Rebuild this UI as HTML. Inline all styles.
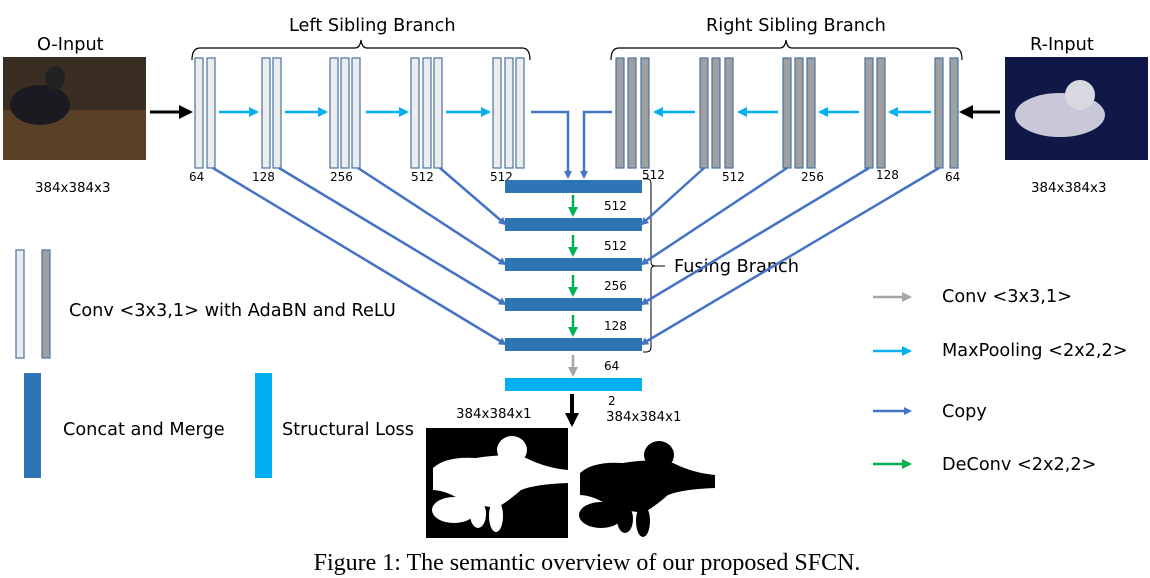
<!DOCTYPE html>
<html><head><meta charset="utf-8"><style>
body{margin:0;background:#fff;}
svg{display:block;font-family:"DejaVu Sans","Liberation Sans",sans-serif;}
.lb{fill:#ececec;stroke:#4a73a8;stroke-width:1.2}
.rb{fill:#a0a0a0;stroke:#4a73a8;stroke-width:1.2}
.t{font-size:17.7px;fill:#000}
.d{font-size:13.4px;fill:#000}
.s{font-size:12px;fill:#000}
.cp{stroke:#4472c4;stroke-width:2.5;fill:none}
</style></head><body>
<svg width="1150" height="578" viewBox="0 0 1150 578">
<defs>
<marker id="mb" markerWidth="8" markerHeight="8" refX="6" refY="4" orient="auto" markerUnits="userSpaceOnUse"><path d="M0,0 L8,4 L0,8z" fill="#4472c4"/></marker>
<marker id="mc" markerWidth="10" markerHeight="10" refX="8" refY="5" orient="auto" markerUnits="userSpaceOnUse"><path d="M0,0 L10,5 L0,10z" fill="#00b0f0"/></marker>
<marker id="mg" markerWidth="10" markerHeight="10" refX="8" refY="5" orient="auto" markerUnits="userSpaceOnUse"><path d="M0,0 L10,5 L0,10z" fill="#00b050"/></marker>
<marker id="mgr" markerWidth="10" markerHeight="10" refX="8" refY="5" orient="auto" markerUnits="userSpaceOnUse"><path d="M0,0 L10,5 L0,10z" fill="#a6a6a6"/></marker>
<marker id="mk" markerWidth="14" markerHeight="14" refX="11" refY="7" orient="auto" markerUnits="userSpaceOnUse"><path d="M0,0 L14,7 L0,14z" fill="#000"/></marker>
<g id="fig">
<ellipse cx="86" cy="22" rx="15" ry="14"/>
<path d="M7,40 Q20,28 50,30 Q80,25 100,30 Q120,40 142,42 L142,55 Q110,56 95,62 Q80,75 70,80 L40,75 Q20,62 7,62z"/>
<ellipse cx="28" cy="82" rx="22" ry="13"/>
<ellipse cx="52" cy="86" rx="8" ry="14"/>
<ellipse cx="70" cy="88" rx="7" ry="16"/>
</g>
</defs>

<text x="289" y="31" class="t">Left Sibling Branch</text>
<text x="706" y="31" class="t">Right Sibling Branch</text>
<text x="37" y="50" class="t">O-Input</text>
<text x="1030" y="50" class="t">R-Input</text>
<path d="M192,60 Q192,48 200,48 L355,48 Q360,48 361,40 Q362,48 367,48 L522,48 Q530,48 530,60" fill="none" stroke="#000" stroke-width="1.2"/>
<path d="M611,60 Q611,48 619,48 L780,48 Q785,48 786,40 Q787,48 792,48 L955,48 Q962,48 962,60" fill="none" stroke="#000" stroke-width="1.2"/>

<rect x="3" y="57" width="143" height="103" fill="#3a2e22"/>
<rect x="3" y="110" width="143" height="50" fill="#5a4026"/>
<ellipse cx="40" cy="105" rx="30" ry="20" fill="#1a1a20"/>
<ellipse cx="55" cy="78" rx="10" ry="12" fill="#222"/>
<rect x="1005" y="57" width="143" height="103" fill="#101848"/>
<ellipse cx="1060" cy="115" rx="45" ry="22" fill="#c8c8d8"/>
<ellipse cx="1080" cy="95" rx="15" ry="15" fill="#d8d8e0"/>
<text x="35" y="192" class="d">384x384x3</text>
<text x="1031" y="192" class="d">384x384x3</text>
<line x1="150" y1="112" x2="190" y2="112" stroke="#000" stroke-width="3" marker-end="url(#mk)"/>
<line x1="1000" y1="112" x2="962" y2="112" stroke="#000" stroke-width="3" marker-end="url(#mk)"/>

<g class="lb">
<rect x="195" y="58" width="8" height="110"/><rect x="207" y="58" width="8" height="110"/>
<rect x="262" y="58" width="8" height="110"/><rect x="273" y="58" width="8" height="110"/>
<rect x="330" y="58" width="8" height="110"/><rect x="341" y="58" width="8" height="110"/><rect x="352" y="58" width="8" height="110"/>
<rect x="411" y="58" width="8" height="110"/><rect x="423" y="58" width="8" height="110"/><rect x="434" y="58" width="8" height="110"/>
<rect x="493" y="58" width="8" height="110"/><rect x="505" y="58" width="8" height="110"/><rect x="516" y="58" width="8" height="110"/>
</g>
<g class="rb">
<rect x="616" y="58" width="8" height="110"/><rect x="628" y="58" width="8" height="110"/><rect x="641" y="58" width="8" height="110"/>
<rect x="700" y="58" width="8" height="110"/><rect x="712" y="58" width="8" height="110"/><rect x="725" y="58" width="8" height="110"/>
<rect x="783" y="58" width="8" height="110"/><rect x="795" y="58" width="8" height="110"/><rect x="807" y="58" width="8" height="110"/>
<rect x="865" y="58" width="8" height="110"/><rect x="877" y="58" width="8" height="110"/>
<rect x="935" y="58" width="8" height="110"/><rect x="950" y="58" width="8" height="110"/>
</g>
<g class="s">
<text x="189" y="181">64</text><text x="252" y="181">128</text><text x="330" y="181">256</text><text x="411" y="181">512</text><text x="490" y="181">512</text>
<text x="642" y="179">512</text><text x="722" y="181">512</text><text x="801" y="181">256</text><text x="876" y="179">128</text><text x="945" y="181">64</text>
</g>
<g stroke="#00b0f0" stroke-width="2.5" marker-end="url(#mc)">
<line x1="219" y1="112" x2="257" y2="112"/><line x1="285" y1="112" x2="326" y2="112"/>
<line x1="366" y1="112" x2="407" y2="112"/><line x1="446" y1="112" x2="489" y2="112"/>
<line x1="695" y1="112" x2="655" y2="112"/><line x1="778" y1="112" x2="739" y2="112"/>
<line x1="859" y1="112" x2="820" y2="112"/><line x1="931" y1="112" x2="890" y2="112"/>
</g>

<g fill="#2e75b6">
<rect x="505" y="180" width="137" height="13"/><rect x="505" y="218" width="137" height="13"/>
<rect x="505" y="258" width="137" height="13"/><rect x="505" y="298" width="137" height="13"/>
<rect x="505" y="338" width="137" height="13"/>
</g>
<rect x="505" y="378" width="137" height="13" fill="#00b0f0"/>
<g class="s">
<text x="604" y="210">512</text><text x="604" y="250">512</text><text x="604" y="290">256</text><text x="604" y="330">128</text><text x="604" y="370">64</text><text x="608" y="405">2</text>
</g>
<path d="M643,179 L648,179 Q651,179 651,184 L651,262 Q651,266 655,266 Q651,266 651,270 L651,347 Q651,352 646,352 L643,352" fill="none" stroke="#000" stroke-width="1"/>
<line x1="655" y1="266" x2="665" y2="266" stroke="#000" stroke-width="1"/>
<text x="674" y="272" class="t">Fusing Branch</text>

<g stroke="#00b050" stroke-width="2.5" marker-end="url(#mg)">
<line x1="573" y1="195" x2="573" y2="215"/><line x1="573" y1="235" x2="573" y2="255"/>
<line x1="573" y1="275" x2="573" y2="295"/><line x1="573" y1="315" x2="573" y2="335"/>
</g>
<line x1="573" y1="355" x2="573" y2="375" stroke="#a6a6a6" stroke-width="2.5" marker-end="url(#mgr)"/>
<line x1="572" y1="394" x2="572" y2="424" stroke="#000" stroke-width="4" marker-end="url(#mk)"/>

<g class="cp" marker-end="url(#mb)">
<path d="M531,112 L568,112 L568,177"/>
<path d="M612,112 L584,112 L584,177"/>
<line x1="213" y1="168" x2="505" y2="344"/>
<line x1="279" y1="168" x2="505" y2="304"/>
<line x1="358" y1="168" x2="505" y2="264"/>
<line x1="440" y1="168" x2="505" y2="224"/>
<line x1="704" y1="168" x2="642" y2="224"/>
<line x1="787" y1="168" x2="642" y2="264"/>
<line x1="869" y1="168" x2="642" y2="304"/>
<line x1="939" y1="168" x2="642" y2="344"/>
</g>

<text x="456" y="418" class="d">384x384x1</text>
<text x="606" y="421" class="d">384x384x1</text>
<rect x="426" y="428" width="142" height="110" fill="#000"/>
<use href="#fig" x="426" y="428" fill="#fff"/>
<rect x="572" y="436" width="144" height="102" fill="#fff"/>
<use href="#fig" x="573" y="433" fill="#000"/>

<rect x="16" y="250" width="8" height="108" class="lb"/>
<rect x="42" y="250" width="8" height="108" class="rb"/>
<text x="69" y="316" class="t">Conv &lt;3x3,1&gt; with AdaBN and ReLU</text>
<rect x="24" y="373" width="17" height="105" fill="#2e75b6"/>
<text x="63" y="435" class="t">Concat and Merge</text>
<rect x="255" y="373" width="17" height="105" fill="#00b0f0"/>
<text x="282" y="435" class="t">Structural Loss</text>

<line x1="873" y1="297" x2="910" y2="297" stroke="#a6a6a6" stroke-width="2.5" marker-end="url(#mgr)"/>
<text x="942" y="302" class="t">Conv &lt;3x3,1&gt;</text>
<line x1="873" y1="351" x2="910" y2="351" stroke="#00b0f0" stroke-width="2.5" marker-end="url(#mc)"/>
<text x="942" y="356" class="t">MaxPooling &lt;2x2,2&gt;</text>
<line x1="873" y1="411" x2="910" y2="411" stroke="#4472c4" stroke-width="2.5" marker-end="url(#mb)"/>
<text x="942" y="417" class="t">Copy</text>
<line x1="873" y1="464" x2="910" y2="464" stroke="#00b050" stroke-width="2.5" marker-end="url(#mg)"/>
<text x="942" y="470" class="t">DeConv &lt;2x2,2&gt;</text>

<text x="587" y="570" text-anchor="middle" style="font-family:'Liberation Serif',serif;font-size:24px">Figure 1: The semantic overview of our proposed SFCN.</text>
</svg>
</body></html>
